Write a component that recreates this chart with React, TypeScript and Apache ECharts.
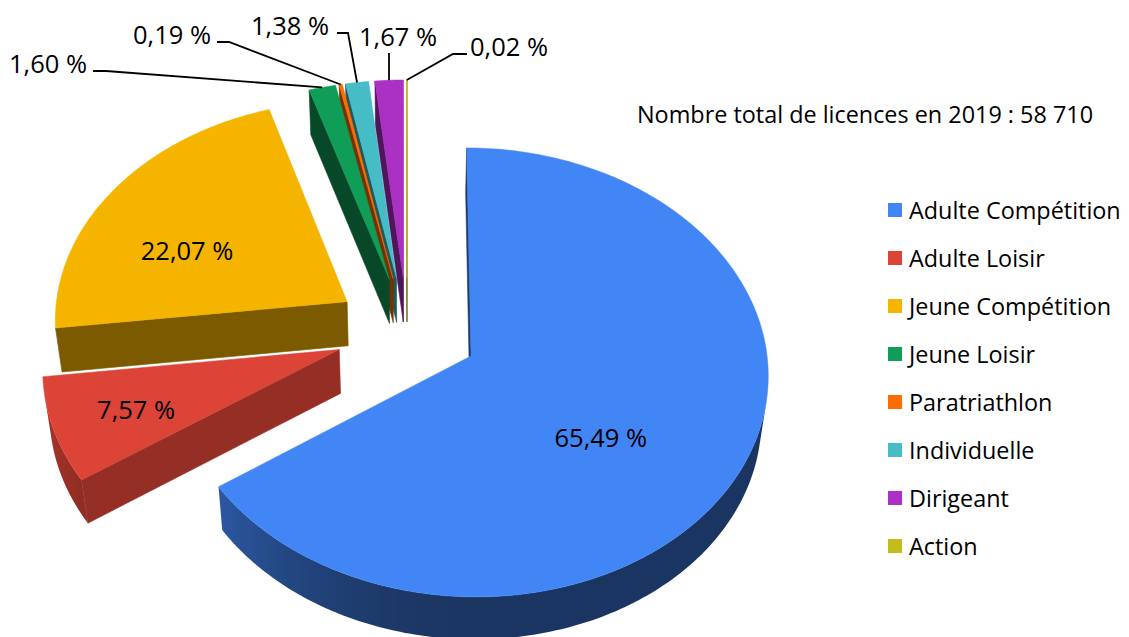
import React, { useEffect, useRef } from "react";
import * as echarts from "echarts";

// ---- data ----
const categories = [
  "Adulte Compétition",
  "Adulte Loisir",
  "Jeune Compétition",
  "Jeune Loisir",
  "Paratriathlon",
  "Individuelle",
  "Dirigeant",
  "Action",
];
const shares = [65.49, 7.57, 22.07, 1.6, 0.19, 1.38, 1.67, 0.02];
const colors = ["#4285F4", "#DB4437", "#F4B400", "#0F9D58", "#FF6D01", "#46BDC6", "#AB30C4", "#C2BD1D"];
const totalLicences = 58710;
const year = 2019;

// ---- layout / style ----
const FONT = '"Open Sans", "Noto Sans", sans-serif';
const CX = 407, CY = 330.5, F = 293.5;
const SIN_A = 0.748, COS_A = 0.664;
const K = 0.073; // cos(a)/D
const KH = 0.0822; // sin(a)/D
const THICK = 0.23;
const EXPLODE = 0.245;
const CAM_V = -(COS_A / K) * COS_A;

const rad = (d: number) => (d * Math.PI) / 180;
function proj(u: number, v: number, h: number): [number, number] {
  const z = 1 + K * v - KH * h;
  return [CX + (F * u) / z, CY - (F * (v * SIN_A + h * COS_A)) / z];
}
function shade(hex: string, f: number) {
  const n = parseInt(hex.slice(1), 16);
  const r = (n >> 16) & 255, g = (n >> 8) & 255, b = n & 255;
  return `rgb(${Math.round(r * f)},${Math.round(g * f)},${Math.round(b * f)})`;
}
const fmtPct = (v: number) => v.toFixed(2).replace(".", ",") + " %";
const fmtThousands = (n: number) => String(n).replace(/\B(?=(\d{3})+(?!\d))/g, " ");

// label layout (angle around slice centre in degrees, radius fraction)
const insideLabels: Record<number, [number, number]> = {
  0: [130, 0.55],
  1: [248.5, 0.72],
  2: [293.5, 0.615],
};
const outsideLabels: Record<number, { x: number; y: number; align: string; path: [number, number][] }> = {
  3: { x: 87, y: 63, align: "right", path: [[93, 71], [106, 71]] },
  4: { x: 211, y: 34, align: "right", path: [[217, 42], [229, 42]] },
  5: { x: 329, y: 25, align: "right", path: [[337, 33], [348, 33]] },
  6: { x: 398, y: 36, align: "center", path: [[389, 53]] },
  7: { x: 470, y: 46, align: "left", path: [[467, 54], [453, 54]] },
};

const outerShade = (nu: number) => 0.4 + 0.38 * Math.pow(Math.max(0, -nu), 2);

function buildGeometry() {
  const total = shares.reduce((a, b) => a + b, 0);
  let cum = 0;
  return shares.map((val, i) => {
    const a0 = (cum / total) * 360;
    cum += val;
    const a1 = (cum / total) * 360;
    const m = (a0 + a1) / 2;
    const cu = EXPLODE * Math.sin(rad(m));
    const cv = EXPLODE * Math.cos(rad(m));
    const rimW = (t: number, r = 1): [number, number] => [cu + r * Math.sin(rad(t)), cv + r * Math.cos(rad(t))];
    const n = Math.max(2, Math.ceil((a1 - a0) / 1));
    const top: [number, number][] = [proj(cu, cv, 0)];
    for (let k = 0; k <= n; k++) {
      const t = a0 + ((a1 - a0) * k) / n;
      const [u, v] = rimW(t);
      top.push(proj(u, v, 0));
    }
    const walls: { pts: [number, number][]; fill: any; z2: number }[] = [];
    const visible = (nu: number, nv: number, pu: number, pv: number) => nu * (0 - pu) + nv * (CAM_V - pv) > 0;
    // radial walls
    const radial = (t: number, nu: number, nv: number) => {
      const [mu, mv] = rimW(t, 0.5);
      if (!visible(nu, nv, mu, mv)) return;
      const [ru, rv] = rimW(t);
      const f = 0.46 + 0.39 * Math.max(0, nu);
      walls.push({
        pts: [proj(cu, cv, 0), proj(ru, rv, 0), proj(ru, rv, -THICK), proj(cu, cv, -THICK)],
        fill: shade(colors[i], f),
        z2: 10 - mv,
      });
    };
    radial(a0, -Math.cos(rad(a0)), Math.sin(rad(a0)));
    radial(a1, Math.cos(rad(a1)), -Math.sin(rad(a1)));
    // outer wall: find visible angular runs
    const step = 0.5;
    const segs = Math.max(1, Math.ceil((a1 - a0) / step));
    const runs: [number, number][] = [];
    let runStart: number | null = null;
    for (let k = 0; k <= segs; k++) {
      const t = a0 + ((a1 - a0) * k) / segs;
      const nu = Math.sin(rad(t)), nv = Math.cos(rad(t));
      const [pu, pv] = rimW(t);
      const vis = visible(nu, nv, pu, pv);
      if (vis && runStart === null) runStart = t;
      if ((!vis || k === segs) && runStart !== null) {
        runs.push([runStart, t]);
        runStart = null;
      }
    }
    runs.forEach(([s, e]) => {
      if (e - s <= 0) return;
      const cnt = Math.max(2, Math.ceil((e - s) / 1));
      const topPts: [number, number][] = [];
      const botPts: [number, number][] = [];
      const samples: { x: number; c: string }[] = [];
      for (let k = 0; k <= cnt; k++) {
        const t = s + ((e - s) * k) / cnt;
        const [u, v] = rimW(t);
        const p = proj(u, v, 0);
        topPts.push(p);
        botPts.push(proj(u, v, -THICK));
        samples.push({ x: p[0], c: shade(colors[i], outerShade(Math.sin(rad(t)))) });
      }
      const xs = samples.map((q) => q.x);
      const x0 = Math.min(...xs), x1 = Math.max(...xs);
      let fill: any;
      if (x1 - x0 < 2) {
        fill = samples[Math.floor(samples.length / 2)].c;
      } else {
        const stops = samples
          .map((q) => ({ offset: (q.x - x0) / (x1 - x0), color: q.c }))
          .sort((a, b) => a.offset - b.offset);
        fill = new echarts.graphic.LinearGradient(x0, 0, x1, 0, stops, true);
      }
      const [mu, mv] = rimW((s + e) / 2);
      walls.push({ pts: [...topPts, ...botPts.reverse()], fill, z2: 10 - mv });
    });
    return { a0, a1, m, cu, cv, top, walls, rimW };
  });
}

export default function App() {
  const ref = useRef<HTMLDivElement>(null);
  useEffect(() => {
    if (!ref.current) return;
    const chart = echarts.init(ref.current, undefined, { renderer: "svg" });
    const geo = buildGeometry();

    const renderItem = (params: any, api: any) => {
      const i = params.dataIndex;
      const g = geo[i];
      const children: any[] = [];
      g.walls.forEach((w) =>
        children.push({
          type: "polygon",
          shape: { points: w.pts },
          style: { fill: w.fill, stroke: typeof w.fill === "string" ? w.fill : null, lineWidth: 0.6 },
          z2: w.z2,
        })
      );
      children.push({
        type: "polygon",
        shape: { points: g.top },
        style: { fill: colors[i], stroke: colors[i], lineWidth: i === 7 ? 1.2 : 0.5 },
        z2: 50,
      });
      const text = fmtPct(api.value(0));
      if (insideLabels[i]) {
        const [ang, r] = insideLabels[i];
        const [u, v] = g.rimW(ang, r);
        const [x, y] = proj(u, v, 0);
        children.push({
          type: "text",
          style: { text, x, y, fill: "#000", fontFamily: FONT, fontSize: 25.5, align: "center", verticalAlign: "middle" },
          z2: 60,
        });
      } else if (outsideLabels[i]) {
        const L = outsideLabels[i];
        const [u, v] = g.rimW(g.m, 1);
        const end = proj(u, v, 0);
        children.push({
          type: "polyline",
          shape: { points: [...L.path, end] },
          style: { stroke: "#000", lineWidth: 1.8, fill: null },
          z2: 60,
        });
        children.push({
          type: "text",
          style: { text, x: L.x, y: L.y, fill: "#000", fontFamily: FONT, fontSize: 25.5, align: L.align, verticalAlign: "middle" },
          z2: 60,
        });
      }
      return { type: "group", children };
    };

    chart.setOption({
      animation: false,
      backgroundColor: "#fff",
      title: {
        text: `Nombre total de licences en ${year} : ${fmtThousands(totalLicences)}`,
        left: 637,
        top: 101,
        padding: 0,
        textStyle: { fontFamily: FONT, fontSize: 23.4, fontWeight: "normal", color: "#000", lineHeight: 26 },
      },
      legend: {
        orient: "vertical",
        left: 888,
        top: 198,
        padding: 0,
        itemWidth: 14,
        itemHeight: 14,
        itemGap: 24,
        icon: "rect",
        selectedMode: false,
        data: categories,
        textStyle: { fontFamily: FONT, fontSize: 23.4, lineHeight: 24, color: "#000", padding: [0, 0, 0, 2] },
      },
      series: [
        {
          type: "pie",
          name: "legend",
          radius: 0,
          center: [-100, -100],
          silent: true,
          label: { show: false },
          labelLine: { show: false },
          data: categories.map((name, i) => ({ name, value: shares[i], itemStyle: { color: colors[i] } })),
        },
        {
          type: "custom",
          name: "licences",
          coordinateSystem: "none",
          silent: true,
          renderItem,
          data: shares.map((v, i) => ({ name: categories[i], value: [v] })),
        },
      ],
    });
    return () => chart.dispose();
  }, []);
  return <div ref={ref} style={{ position: "fixed", left: 0, top: 0, width: 1129, height: 637, background: "#fff" }} />;
}
